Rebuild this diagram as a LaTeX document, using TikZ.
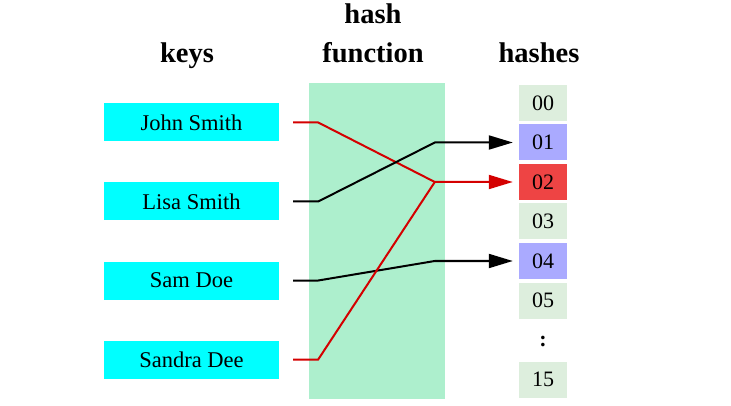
\documentclass[tikz,border=0pt]{standalone}
\usepackage{fontspec}
\setmainfont{Liberation Serif}
\usetikzlibrary{arrows.meta,calc}
\definecolor{keycyan}{HTML}{00FFFF}
\definecolor{hfgreen}{HTML}{ADEFCD}
\definecolor{slotgreen}{HTML}{DDEEDD}
\definecolor{slotblue}{HTML}{AAAAFF}
\definecolor{slotred}{HTML}{EE4444}
\definecolor{linered}{HTML}{D40000}
\tikzset{
  keybox/.style={fill=keycyan, minimum width=175pt, minimum height=38pt, inner sep=0pt,
    font=\fontsize{22.5}{25}\selectfont},
  slot/.style={fill=slotgreen, minimum width=48pt, minimum height=36pt, inner sep=0pt,
    font=\fontsize{22}{25}\selectfont},
  title/.style={font=\fontsize{28.5}{32}\selectfont\bfseries, anchor=base, inner sep=0pt},
  conn/.style={line width=2pt, -{Triangle[length=24pt,width=14pt]}, shorten >=6pt},
}
\begin{document}
\begin{tikzpicture}[x=1pt,y=-1pt]
\useasboundingbox (0,0) rectangle (731,406);
% titles
\node[title] (tkeys) at (187,63) {keys};
\node[title] (thash) at (373,24) {hash};
\node[title] (tfunc) at (373,63) {function};
\node[title] (thashes) at (539,63) {hashes};
% hash function area
\node[fill=hfgreen, minimum width=136pt, minimum height=316pt, inner sep=0pt] (hf) at (377,241) {};
% keys
\node[keybox] (john) at (191.5,122.5) {John Smith};
\node[keybox] (lisa) at (191.5,201.5) {Lisa Smith};
\node[keybox] (sam) at (191.5,280.5) {Sam Doe};
\node[keybox] (sandra) at (191.5,359.5) {Sandra Dee};
% slots
\node[slot] (h00) at (543,103) {00};
\node[slot, fill=slotblue] (h01) at (543,142.5) {01};
\node[slot, fill=slotred] (h02) at (543,182) {02};
\node[slot] (h03) at (543,221.5) {03};
\node[slot, fill=slotblue] (h04) at (543,261) {04};
\node[slot] (h05) at (543,300.5) {05};
\node[font=\fontsize{22}{25}\selectfont\bfseries, inner sep=0pt] (dots) at (543,341) {:};
\node[slot] (h15) at (543,379.5) {15};
% connectors
\draw[conn, linered] ([xshift=14pt]john.east) -- ++(25,0) -- ([xshift=-84pt]h02.west) -- (h02.west);
\draw[conn, black] ([xshift=14pt]lisa.east) -- ++(25,0) -- ([xshift=-84pt]h01.west) -- (h01.west);
\draw[conn, black] ([xshift=14pt]sam.east) -- ++(25,0) -- ([xshift=-84pt]h04.west) -- (h04.west);
\draw[line width=2pt, linered] ([xshift=14pt]sandra.east) -- ++(25,0) -- ([xshift=-84pt]h02.west);
\end{tikzpicture}
\end{document}
